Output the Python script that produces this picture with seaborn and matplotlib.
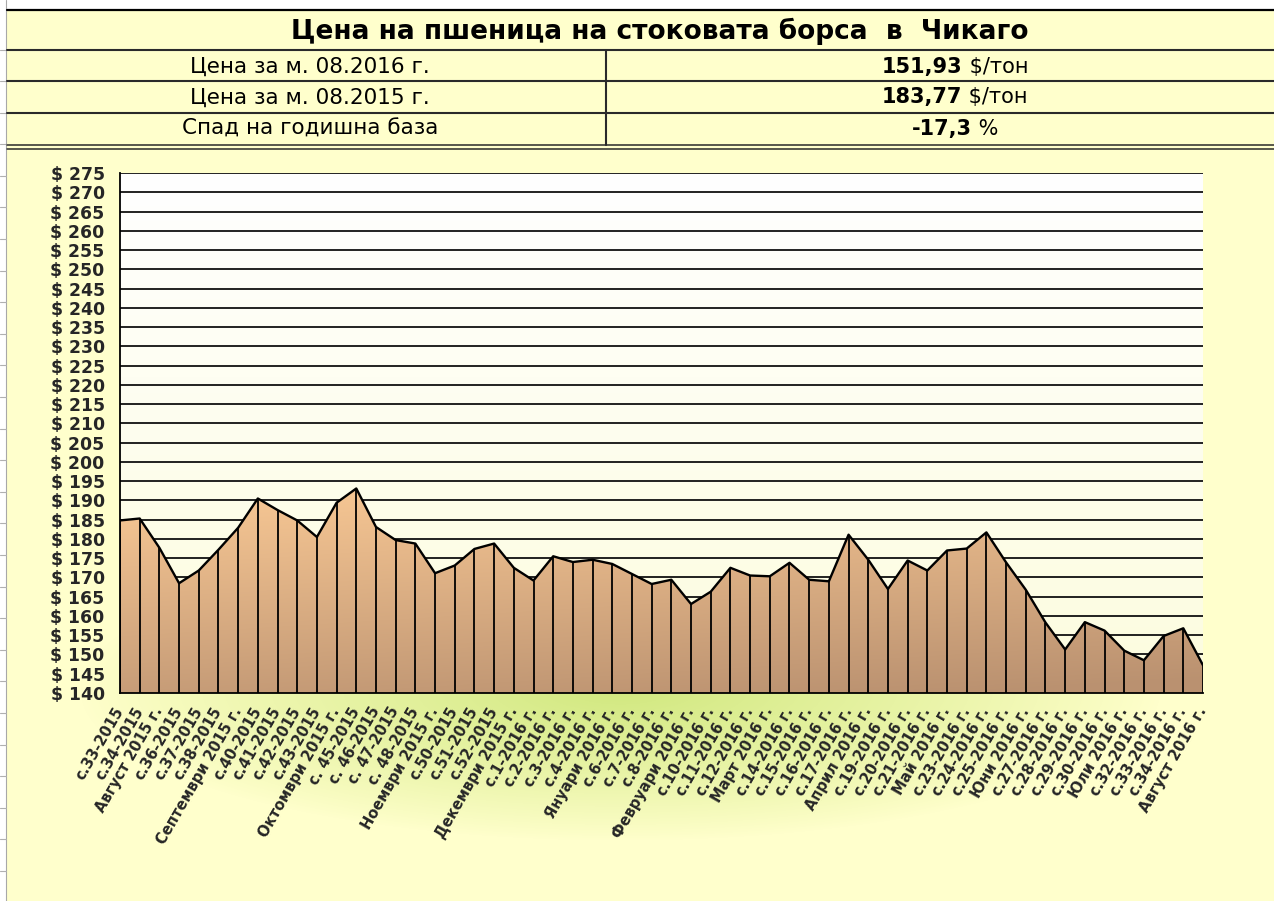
import numpy as np
import matplotlib
matplotlib.use("Agg")
import matplotlib.pyplot as plt
import seaborn as sns
from matplotlib.patches import Polygon

# ---------------- data ----------------
week_labels = [
    "с.33-2015", "с.34-2015", "Август 2015 г.", "с.36-2015", "с.37-2015", "с.38-2015",
    "Септември 2015 г.", "с.40-2015", "с.41-2015", "с.42-2015", "с.43-2015",
    "Октомври 2015 г.", "с. 45-2015", "с. 46-2015", "с. 47-2015", "с. 48-2015",
    "Ноември 2015 г.", "с.50-2015", "с.51-2015", "с.52-2015", "Декември 2015 г.",
    "с.1-2016 г.", "с.2-2016 г.", "с.3-2016 г.", "с.4-2016 г.", "Януари 2016 г.",
    "с.6-2016 г.", "с.7-2016 г.", "с.8-2016 г.", "Февруари 2016 г.", "с.10-2016 г.",
    "с.11-2016 г.", "с.12-2016 г.", "Март 2016 г.", "с.14-2016 г.", "с.15-2016 г.",
    "с.16-2016 г.", "с.17-2016 г.", "Април 2016 г.", "с.19-2016 г.", "с.20-2016 г.",
    "с.21-2016 г.", "Май 2016 г.", "с.23-2016 г.", "с.24-2016 г.", "с.25-2016 г.",
    "Юни 2016 г.", "с.27-2016 г.", "с.28-2016 г.", "с.29-2016 г.", "с.30-2016 г.",
    "Юли 2016 г.", "с.32-2016 г.", "с.33-2016 г.", "с.34-2016 г.", "Август 2016 г.",
]
prices = [
    184.8, 185.3, 177.7, 168.5, 171.8, 177.2, 182.9, 190.5, 187.5, 184.8, 180.5,
    189.4, 193.1, 183.1, 179.7, 178.8, 171.1, 173.1, 177.4, 178.8, 172.5,
    169.2, 175.5, 174.0, 174.6, 173.5, 170.9, 168.3, 169.4, 163.1, 166.3,
    172.5, 170.5, 170.3, 173.8, 169.4, 169.0, 181.1, 174.6, 167.0, 174.4,
    171.8, 177.0, 177.5, 181.7, 173.9, 166.8, 158.3, 151.3, 158.4, 156.2,
    151.0, 148.5, 154.8, 156.8, 147.2,
]
y_ticks = list(range(140, 276, 5))
y_tick_labels = [f"$ {v}" for v in y_ticks]

title_text = "Цена на пшеница на стоковата борса  в  Чикаго"
row_labels = ["Цена за м. 08.2016 г.", "Цена за м. 08.2015 г.", "Спад на годишна база"]
row_values = ["151,93", "183,77", "-17,3"]
row_units = ["$/тон", "$/тон", "%"]

# ---------------- figure ----------------
W, H, DPI = 1274, 901, 100
sns.set_style("white")
plt.rcParams['font.family'] = ['DejaVu Sans']

fig = plt.figure(figsize=(W / DPI, H / DPI), dpi=DPI, facecolor='white')

# background (pixel coordinates)
bg = fig.add_axes([0, 0, 1, 1], zorder=0)
bg.set_xlim(0, W)
bg.set_ylim(H, 0)
bg.axis('off')

img = np.ones((H, W, 3))
yellow = np.array([1.0, 1.0, 0.80])
green = np.array([0.82, 0.91, 0.50])
img[10:, 7:] = yellow
yy, xx = np.mgrid[0:H, 0:W]
rr = np.sqrt(((xx - 620) / 540.0) ** 2 + ((yy - 690) / 150.0) ** 2)
tt = np.clip(1 - rr, 0, 1) ** 0.9
mask = (yy >= 149) & (xx >= 7)
img[mask] = yellow * (1 - tt[mask, None]) + green * tt[mask, None]
bg.imshow(img, extent=[0, W, H, 0], interpolation='bilinear', aspect='auto')

# spreadsheet left edge
bg.plot([6, 6], [0, H], color='#a8a8a8', lw=0.8)
for yk in np.arange(49.5, H, 31.6):
    bg.plot([0, 6], [yk, yk], color='#b0b0b0', lw=0.8)

# table lines
line_c = '#2a2a2a'
bg.plot([7, W], [10, 10], color='black', lw=1.6)
for yl in [49.5, 81, 112.5]:
    bg.plot([7, W], [yl, yl], color=line_c, lw=1.5)
bg.plot([7, W], [145, 145], color=line_c, lw=1.1)
bg.plot([7, W], [148.5, 148.5], color=line_c, lw=1.1)
bg.plot([606, 606], [49.5, 145], color=line_c, lw=1.5)

bg.text(660, 31, title_text, ha='center', va='center', fontsize=19,
        fontweight='bold', color='black')

renderer = fig.canvas.get_renderer()
row_y = [67, 97.5, 129]
for lab, val, unit, yc in zip(row_labels, row_values, row_units, row_y):
    bg.text(310, yc, lab, ha='center', va='center', fontsize=15.5, color='black')
    t1 = bg.text(0, yc, val, ha='left', va='center', fontsize=15,
                 fontweight='bold', color='black')
    t2 = bg.text(0, yc, " " + unit, ha='left', va='center', fontsize=15,
                 color='black')
    w1 = t1.get_window_extent(renderer).width
    w2 = t2.get_window_extent(renderer).width
    x0 = 955 - (w1 + w2) / 2
    t1.set_x(x0)
    t2.set_x(x0 + w1)

# ---------------- chart ----------------
x = np.arange(len(prices))
left, right, top, bottom = 120, 1203, 173, 693
ax = fig.add_axes([left / W, (H - bottom) / H, (right - left) / W, (bottom - top) / H],
                  zorder=2)
ax.patch.set_alpha(0)
ax.set_xlim(0, len(prices) - 1)
ax.set_ylim(140, 275)

# plot-area gradient
pg = np.linspace(0, 1, 200)[:, None]
c_top = np.array([1.0, 1.0, 1.0])
c_bot = np.array([0.99, 0.99, 0.87])
plot_bg = (c_top * (1 - pg) + c_bot * pg)[:, None, :].repeat(2, axis=1)
ax.imshow(plot_bg, extent=[0, len(prices) - 1, 140, 275], aspect='auto',
          zorder=0, interpolation='bilinear')

for v in y_ticks:
    ax.axhline(v, color='#111111', lw=1.3, zorder=1)

# area with gradient fill
gy = np.linspace(0, 1, 300)[:, None]
gx = np.linspace(0, 1, 300)[None, :]
tmix = np.clip(0.8 * gy + 0.25 * gx, 0, 1)
a_top = np.array([0.985, 0.795, 0.59])
a_bot = np.array([0.73, 0.57, 0.44])
area_img = a_top[None, None, :] * (1 - tmix[..., None]) + a_bot[None, None, :] * tmix[..., None]
ymax_area = max(prices) + 2
im = ax.imshow(area_img, extent=[0, len(prices) - 1, 140, ymax_area], aspect='auto',
               zorder=2, interpolation='bilinear', origin='upper')
verts = [(0, 140)] + list(zip(x, prices)) + [(len(prices) - 1, 140)]
clip_poly = Polygon(verts, closed=True, transform=ax.transData)
im.set_clip_path(clip_poly)

ax.vlines(x, 140, prices, color='black', lw=1.3, zorder=3)
sns.lineplot(x=x, y=prices, color='black', lw=1.7, ax=ax, zorder=4)
ax.set_ylim(140, 275)
ax.set_xlim(0, len(prices) - 1)

for s in ['top', 'right']:
    ax.spines[s].set_visible(False)
for s in ['left', 'bottom']:
    ax.spines[s].set_color('black')
    ax.spines[s].set_linewidth(1.3)
    ax.spines[s].set_zorder(5)

ax.set_yticks(y_ticks)
ax.set_yticklabels(y_tick_labels, fontsize=12.4, fontweight='bold')
ax.set_xticks(x)
ax.set_xticklabels(week_labels, rotation=60, ha='right', va='center',
                   rotation_mode='anchor', fontsize=10.5, fontweight='bold')
ax.tick_params(axis='both', direction='out', length=6, width=1.2, color='black')
ax.tick_params(axis='y', pad=5)
ax.tick_params(axis='x', pad=5)
ax.set_xlabel("")
ax.set_ylabel("")
ax.grid(False)

fig.savefig("out.png", dpi=DPI, facecolor=fig.get_facecolor())
